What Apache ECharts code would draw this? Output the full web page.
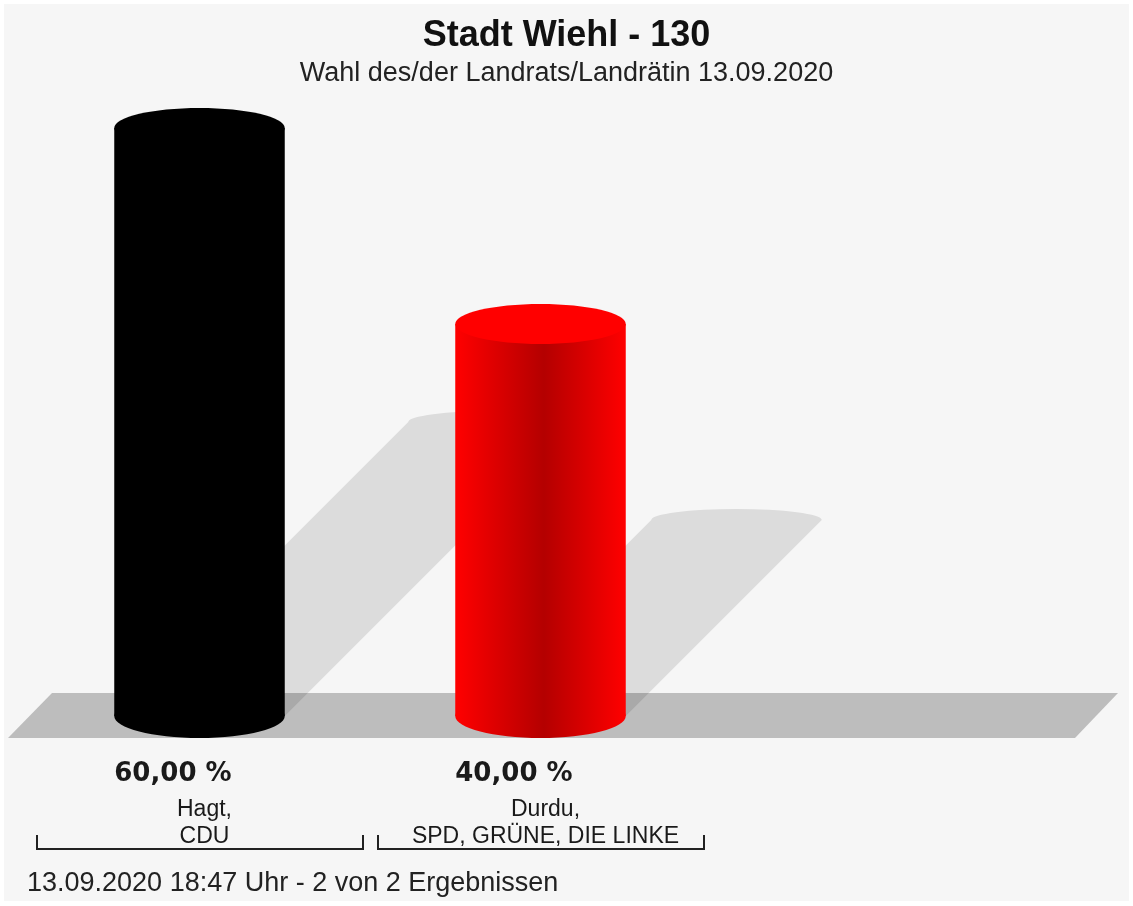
<!DOCTYPE html>
<html>
<head>
    <meta charset="utf-8">
    <title>Stadt Wiehl - 130</title>
    <script src="https://cdn.jsdelivr.net/npm/echarts@6/dist/echarts.min.js"></script>
    <style>
        html, body { margin: 0; padding: 0; background: #fff; }
    </style>
</head>
<body>
    <div id="main" style="width: 1133px;height:906px;"></div>

    <script type="text/javascript">
// Ergebnisse
var candidates = ['Hagt,', 'Durdu,'];
var parties = ['CDU', 'SPD, GRÜNE, DIE LINKE'];
var shares = [60, 40];

var titleText = 'Stadt Wiehl - 130';
var subText = 'Wahl des/der Landrats/Landrätin 13.09.2020';
var footerText = '13.09.2020 18:47 Uhr - 2 von 2 Ergebnissen';

var barColors = [
    { body: ['#000000', '#000000', '#000000'], top: '#000000' },
    { body: ['#ff0000', '#b40000', '#ff0000'], top: '#ff0000' }
];

var chart = echarts.init(document.getElementById('main'));

var seriesData = shares.map(function (v, i) { return [i, v]; });

function fmtPct(v) {
    return v.toFixed(2).replace('.', ',') + ' %';
}

// boden
function renderFloor(params, api) {
    if (params.dataIndex !== 0) return;
    var base = api.coord([0, 0])[1];
    var x0 = params.coordSys.x;
    var x1 = api.getWidth() - 37;
    return {
        type: 'polygon',
        shape: {
            points: [
                [x0 + 23, base - 23], [x1 + 22, base - 23],
                [x1 - 21, base + 22], [x0 - 21, base + 22]
            ]
        },
        style: { fill: '#bdbdbd' }
    };
}

// schatten
function renderShadow(params, api) {
    var i = params.dataIndex;
    var top = api.coord([i, api.value(1)]);
    var base = api.coord([i, 0])[1];
    var w = api.size([1, 0])[0] * 0.5;
    var L = top[0] - w / 2, R = top[0] + w / 2;
    var s = (base - top[1]) * 0.5;
    var d = 'M' + L + ' ' + base +
        ' L' + (L + s) + ' ' + (base - s) +
        ' A' + (w / 2) + ' 11 0 0 1 ' + (R + s) + ' ' + (base - s) +
        ' L' + R + ' ' + base + ' Z';
    return {
        type: 'path',
        shape: { pathData: d },
        style: { fill: 'rgba(0,0,0,0.105)' }
    };
}

function renderCylinder(params, api) {
    var i = params.dataIndex;
    var top = api.coord([i, api.value(1)]);
    var base = api.coord([i, 0])[1];
    var band = api.size([1, 0])[0];
    var w = band * 0.5;
    var cx = top[0];
    var c = barColors[i];
    var grad = new echarts.graphic.LinearGradient(0, 0, 1, 0, [
        { offset: 0, color: c.body[0] },
        { offset: 0.52, color: c.body[1] },
        { offset: 1, color: c.body[2] }
    ]);
    var bl = cx - band / 2 + 8, br = cx + band / 2 - 7;
    return {
        type: 'group',
        children: [
            {
                type: 'rect',
                shape: { x: cx - w / 2, y: top[1], width: w, height: base - top[1] },
                style: { fill: grad }
            },
            {
                type: 'ellipse',
                shape: { cx: cx, cy: base, rx: w / 2, ry: 22 },
                style: { fill: grad }
            },
            {
                type: 'ellipse',
                shape: { cx: cx, cy: top[1], rx: w / 2, ry: 20 },
                style: { fill: c.top }
            },
            {
                type: 'text',
                style: {
                    text: fmtPct(api.value(1)), x: cx - w / 2, y: base + 58,
                    font: 'bold 26px "DejaVu Sans"', fill: '#1a1a1a',
                    align: 'left', verticalAlign: 'middle'
                }
            },
            {
                type: 'text',
                style: {
                    text: candidates[i], x: cx + 5, y: base + 94,
                    font: '23px "Liberation Sans", Arial', fill: '#1a1a1a',
                    align: 'center', verticalAlign: 'middle'
                }
            },
            {
                type: 'text',
                style: {
                    text: parties[i], x: cx + 5, y: base + 121,
                    font: '23px "Liberation Sans", Arial', fill: '#1a1a1a',
                    align: 'center', verticalAlign: 'middle'
                }
            },
            {
                type: 'polyline',
                shape: { points: [[bl, base + 119], [bl, base + 133], [br, base + 133], [br, base + 119]] },
                style: { stroke: '#222', lineWidth: 2, fill: null }
            }
        ]
    };
}

chart.setOption({
    animation: false,
    backgroundColor: '#ffffff',
    title: {
        text: titleText,
        subtext: subText,
        left: 'center',
        top: 13,
        itemGap: 6,
        textStyle: { fontFamily: 'Liberation Sans', fontSize: 36, fontWeight: 'bold', color: '#111' },
        subtextStyle: { fontFamily: 'Liberation Sans', fontSize: 27, color: '#222' }
    },
    graphic: {
        elements: [
            {
                type: 'rect', z: -100, silent: true,
                shape: { x: 4, y: 4, width: 1125, height: 897 },
                style: { fill: '#f6f6f6' }
            },
            {
                type: 'text', left: 27, top: 870,
                style: { text: footerText, font: '27px "Liberation Sans", Arial', fill: '#222' }
            }
        ]
    },
    grid: { left: 29, right: 422, top: 128, bottom: 190 },
    xAxis: { type: 'category', data: parties, show: false },
    yAxis: { type: 'value', min: 0, max: 60, show: false },
    series: [
        { type: 'custom', z: 1, renderItem: renderFloor, data: seriesData, silent: true },
        { type: 'custom', z: 2, renderItem: renderShadow, data: seriesData, silent: true },
        { type: 'custom', z: 3, renderItem: renderCylinder, data: seriesData }
    ]
});
    </script>
</body>
</html>
